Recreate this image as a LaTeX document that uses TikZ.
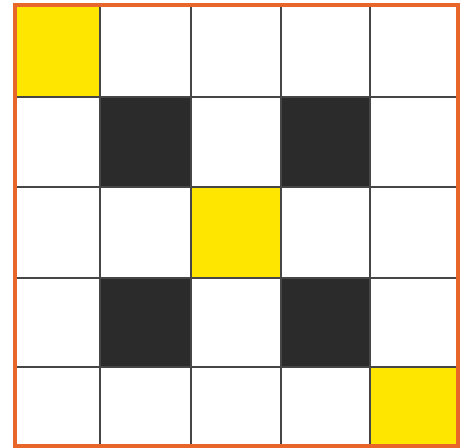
\documentclass[tikz,border=0pt]{standalone}
\usepackage{tikz}
\definecolor{gridyellow}{RGB}{255,230,0}
\definecolor{griddark}{RGB}{43,43,43}
\definecolor{gridline}{RGB}{70,70,70}
\definecolor{frameorange}{RGB}{232,102,42}

\begin{document}
\begin{tikzpicture}[x=0.02cm, y=-0.02cm, cellline/.style={draw=gridline, line width=0.8pt}, frame/.style={draw=frameorange, line width=0.08cm}]
    \useasboundingbox (0,0) rectangle (468,448);
    % column and row edges
    \def\xs{{15,100,191,281,370,458}}
    \def\ys{{5,97,187,278,367,446}}
    % filled cells: column/row/colour
    \foreach \c/\r/\col in {0/0/gridyellow, 2/2/gridyellow, 4/4/gridyellow, 1/1/griddark, 3/1/griddark, 1/3/griddark, 3/3/griddark} {
      \pgfmathsetmacro{\xa}{\xs[\c]}
      \pgfmathsetmacro{\xb}{\xs[\c+1]}
      \pgfmathsetmacro{\ya}{\ys[\r]}
      \pgfmathsetmacro{\yb}{\ys[\r+1]}
      \fill[\col] (\xa,\ya) rectangle (\xb,\yb);
    }
    % grid lines
    \foreach \x in {100,191,281,370}
      \draw[cellline] (\x,5) -- (\x,446);
    \foreach \y in {97,187,278,367}
      \draw[cellline] (15,\y) -- (458,\y);
    % outer frame
    \draw[frame] (15,5) rectangle (458,446);
  \end{tikzpicture}
\end{document}
